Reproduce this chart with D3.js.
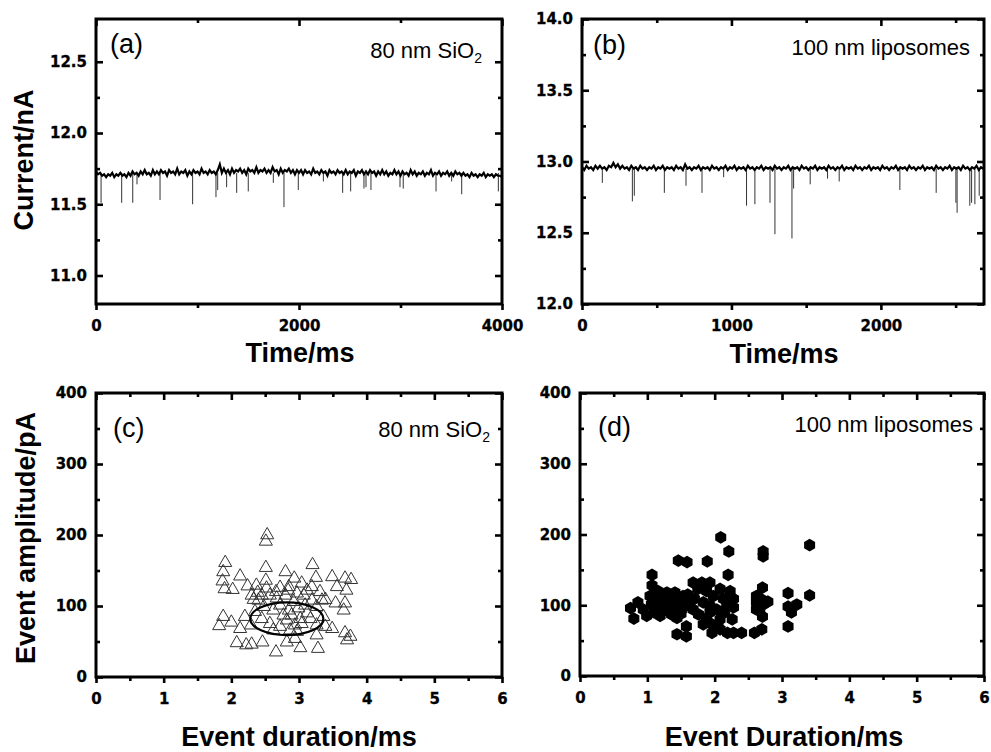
<!DOCTYPE html>
<html>
<head>
<meta charset="utf-8">
<script src="https://cdn.jsdelivr.net/npm/d3@7"></script>
<style>
  body { margin: 0; background: #fff; }
  .tick text { font-family: "DejaVu Sans", sans-serif; font-weight: bold; font-size: 15px; fill: #000; stroke: #000; stroke-width: 0.3px; }
  .title { font-family: "Liberation Sans", Arial, sans-serif; font-weight: bold; font-size: 27px; fill: #000; }
  .plabel { font-family: "Liberation Sans", Arial, sans-serif; font-size: 27px; fill: #000; }
  .note { font-family: "Liberation Sans", Arial, sans-serif; font-size: 22px; fill: #000; }
</style>
</head>
<body>
<script>
// ---- data ----

// (a) 80 nm SiO2 current trace, sampled every 20 ms
var stepA = 20;
var currentA = [
  11.73,11.71,11.72,11.70,11.71,11.69,11.71,11.70,11.72,11.69,11.71,11.70,11.72,11.70,11.71,11.69,11.72,11.70,11.73,11.71,11.72,
  11.70,11.73,11.71,11.74,11.71,11.72,11.70,11.74,11.71,11.73,
  11.71,11.74,11.72,11.73,11.70,11.74,11.72,11.73,11.71,11.75,
  11.71,11.73,11.72,11.74,11.70,11.73,11.71,11.74,11.72,11.73,
  11.71,11.75,11.72,11.73,11.71,11.74,11.72,11.73,11.71,11.74,
  11.78,11.72,11.75,11.72,11.74,11.71,11.75,11.72,11.74,11.73,
  11.75,11.72,11.74,11.71,11.75,11.73,11.74,11.72,11.76,11.72,
  11.74,11.73,11.75,11.72,11.74,11.72,11.76,11.73,11.74,11.71,
  11.75,11.72,11.74,11.73,11.75,11.72,11.74,11.71,11.74,11.72,
  11.74,11.71,11.74,11.72,11.73,11.71,11.75,11.72,11.73,11.71,
  11.74,11.72,11.73,11.70,11.74,11.72,11.73,11.71,11.74,11.72,
  11.73,11.71,11.74,11.71,11.73,11.72,11.74,11.70,11.73,11.72,
  11.74,11.71,11.73,11.71,11.74,11.72,11.73,11.70,11.73,11.71,
  11.74,11.71,11.73,11.70,11.72,11.71,11.74,11.71,11.73,11.70,
  11.73,11.71,11.72,11.70,11.74,11.71,11.73,11.70,11.72,11.71,
  11.73,11.70,11.72,11.71,11.74,11.70,11.72,11.71,11.73,11.70,
  11.72,11.71,11.73,11.70,11.72,11.70,11.73,11.71,11.72,11.70,
  11.72,11.70,11.71,11.69,11.72,11.70,11.71,11.69,11.71,11.70,
  11.72,11.69,11.71,11.70,11.71,11.69,11.71,11.70,11.70,11.69
];
var baseA = 11.72;
var spikeTimeA = [50,253,362,404,631,952,1182,1199,1287,1386,1500,1747,1852,1993,2240,2430,2509,2640,2660,2709,2995,3027,3350,3504,3603,3964];
var spikeDepthA = [11.51,11.51,11.51,11.64,11.53,11.50,11.55,11.60,11.62,11.58,11.59,11.65,11.48,11.60,11.66,11.58,11.59,11.61,11.62,11.60,11.62,11.61,11.59,11.66,11.57,11.59];

// (b) 100 nm liposomes current trace, sampled every 15 ms
var stepB = 15;
var currentB = [
  12.96,12.94,12.97,12.95,12.96,12.94,12.97,12.95,12.97,12.95,
  12.96,12.94,12.97,12.96,12.99,12.96,12.98,12.95,12.97,12.95,12.96,
  12.94,12.97,12.95,12.96,12.94,12.97,12.95,12.96,12.94,12.96,
  12.95,12.97,12.94,12.96,12.95,12.97,12.94,12.96,12.95,12.96,
  12.94,12.97,12.95,12.96,12.94,12.98,12.95,12.96,12.94,12.96,
  12.95,12.97,12.94,12.96,12.95,12.96,12.94,12.97,12.95,12.96,
  12.94,12.96,12.95,12.97,12.94,12.96,12.95,12.97,12.94,12.96,
  12.95,12.96,12.94,12.97,12.95,12.96,12.94,12.96,12.95,12.97,
  12.94,12.96,12.95,12.96,12.94,12.97,12.95,12.96,12.94,12.96,
  12.95,12.97,12.94,12.96,12.95,12.96,12.94,12.97,12.95,12.96,
  12.94,12.96,12.95,12.97,12.94,12.96,12.95,12.96,12.94,12.97,
  12.95,12.96,12.94,12.96,12.95,12.97,12.94,12.96,12.95,12.96,
  12.94,12.97,12.95,12.96,12.94,12.96,12.95,12.97,12.94,12.96,
  12.95,12.96,12.94,12.97,12.95,12.96,12.94,12.96,12.95,12.97,
  12.94,12.96,12.95,12.96,12.94,12.97,12.95,12.96,12.94,12.96,
  12.95,12.97,12.94,12.96,12.95,12.96,12.94,12.97,12.95,12.96,
  12.94,12.96,12.95,12.97,12.94,12.96,12.95,12.96,12.94,12.97,
  12.95,12.96,12.94,12.96,12.95,12.97,12.94,12.96,12.95,12.96
];
var baseB = 12.95;
var spikeTimeB = [136,337,350,551,696,803,948,1101,1157,1258,1291,1405,1416,1527,1643,1721,2127,2370,2502,2510,2595,2607,2629,2658];
var spikeDepthB = [12.85,12.72,12.76,12.78,12.83,12.78,12.89,12.69,12.70,12.71,12.49,12.46,12.81,12.84,12.88,12.86,12.80,12.78,12.71,12.64,12.69,12.71,12.70,12.76];

// (c) 80 nm SiO2 events
var durationC = [2.53,2.51,1.91,1.88,1.87,1.90,2.02,2.13,2.24,2.37,2.51,2.51,2.39,2.33,2.80,2.93,2.72,2.85,3.04,3.20,
  3.25,3.19,3.31,3.39,3.49,3.56,3.68,3.77,3.70,3.54,3.68,3.66,1.88,1.82,2.00,2.13,2.20,2.08,2.22,2.30,
  2.46,2.66,2.82,2.94,3.02,3.28,3.26,3.49,3.68,3.76,3.71,
  2.40,2.48,2.57,2.67,2.62,2.72,2.80,2.85,2.92,2.99,3.07,3.12,3.19,3.26,3.17,3.04,2.94,2.82,2.72,2.57,
  2.45,2.35,2.29,3.36,3.39,3.26,2.87,2.97,2.62,2.77,2.89,3.02,3.09,2.84,2.66,2.52,3.12,2.97,2.45,2.30,3.34];
var amplitudeC = [200,191,161,148,135,124,123,142,128,129,154,136,119,109,148,139,126,127,132,158,
  140,127,120,109,141,127,139,137,122,104,104,94,85,72,77,68,85,48,45,46,
  49,35,49,54,41,40,59,68,62,57,52,
  108,99,115,111,94,101,115,94,106,97,115,90,108,99,82,75,73,80,71,75,
  82,92,73,85,71,73,66,64,66,87,87,82,101,122,120,125,122,118,115,115,108];
var fitC = { duration: 2.82, amplitude: 82, rDuration: 0.54, rAmplitude: 23 };

// (d) 100 nm liposome events
var durationD = [2.09,2.21,2.72,2.72,3.41,1.46,1.59,1.89,1.07,2.20,1.07,2.71,3.09,3.41,0.75,0.86,0.80,0.99,0.94,3.09,
  3.22,3.14,3.09,2.79,2.71,2.70,2.59,2.40,2.28,2.19,2.08,1.96,1.44,1.58,1.58,
  1.14,1.24,1.34,1.14,1.24,1.36,1.44,1.51,1.58,1.44,1.53,1.63,1.29,1.41,1.09,1.19,1.31,1.41,1.49,1.16,1.04,1.06,
  1.20,1.30,1.40,1.50,1.25,1.35,1.55,1.45,1.10,1.60,
  1.68,1.81,1.93,1.75,1.88,1.98,2.08,2.13,2.23,2.28,2.18,2.28,2.03,1.93,1.83,1.76,1.88,1.96,2.08,2.15,2.26,1.93,
  2.05,1.83,1.68,1.70,2.62,2.62,2.62,2.72,2.70,2.67];
var amplitudeD = [196,176,176,169,185,163,161,162,143,143,128,125,117,114,96,104,81,85,94,98,
  101,90,70,105,84,66,61,61,61,61,66,61,59,56,70,
  113,109,104,99,92,87,82,94,104,109,113,109,118,118,106,85,97,97,104,120,113,101,
  100,110,92,88,95,113,98,100,90,115,
  132,132,132,123,120,113,123,109,120,109,101,97,94,99,104,87,82,73,80,90,80,90,
  70,73,94,109,113,104,94,101,108,92];

// ---- drawing ----
var svg = d3.select("body").append("svg")
    .attr("width", 991)
    .attr("height", 752)
    .style("background", "#fff");

function makePanel(p) {
  var w = p.right - p.left, h = p.bottom - p.top;
  var g = svg.append("g").attr("transform", "translate(" + p.left + "," + p.top + ")");
  var x = d3.scaleLinear().domain(p.xDomain).range([0, w]);
  var y = d3.scaleLinear().domain(p.yDomain).range([h, 0]);
  var id = "clip" + p.name;
  svg.append("clipPath").attr("id", id).append("rect").attr("width", w).attr("height", h);
  var plot = g.append("g").attr("clip-path", "url(#" + id + ")");
  return { g: g, plot: plot, x: x, y: y, w: w, h: h, p: p };
}

function drawAxes(P) {
  var p = P.p, g = P.g;
  function put(axis, tx, ty) {
    var a = g.append("g").attr("transform", "translate(" + tx + "," + ty + ")").call(axis);
    a.select(".domain").remove();
    a.selectAll(".tick line").attr("stroke", "#000").attr("stroke-width", 2.6);
    return a;
  }
  put(d3.axisBottom(P.x).tickValues(p.xMajor).tickSize(6).tickPadding(10).tickFormat(p.xFmt), 0, P.h);
  put(d3.axisBottom(P.x).tickValues(p.xMinor).tickSize(4).tickFormat(""), 0, P.h);
  put(d3.axisTop(P.x).tickValues(p.xMajor).tickSize(-7).tickFormat(""), 0, 0);
  put(d3.axisTop(P.x).tickValues(p.xMinor).tickSize(-4).tickFormat(""), 0, 0);
  put(d3.axisLeft(P.y).tickValues(p.yMajor).tickSize(-7).tickPadding(9).tickFormat(p.yFmt), 0, 0);
  put(d3.axisLeft(P.y).tickValues(p.yMinor).tickSize(-4).tickFormat(""), 0, 0);
  put(d3.axisRight(P.y).tickValues(p.yMajor).tickSize(-7).tickFormat(""), P.w, 0);
  put(d3.axisRight(P.y).tickValues(p.yMinor).tickSize(-4).tickFormat(""), P.w, 0);
  g.append("rect").attr("width", P.w).attr("height", P.h)
    .attr("fill", "none").attr("stroke", "#000").attr("stroke-width", 3);
}

function drawTrace(P, step, values, base, spikeT, spikeD) {
  var times = values.map(function (v, i) { return i * step; });
  // event spikes
  P.plot.selectAll("line.spike").data(spikeT).enter().append("line")
    .attr("class", "spike")
    .attr("x1", function (d) { return P.x(d); })
    .attr("x2", function (d) { return P.x(d); })
    .attr("y1", P.y(base))
    .attr("y2", function (d, i) { return P.y(spikeD[i]); })
    .attr("stroke", "#333")
    .attr("stroke-width", 1);
  var line = d3.line()
    .x(function (d, i) { return P.x(times[i]); })
    .y(function (d) { return P.y(d); });
  P.plot.append("path").datum(values)
    .attr("fill", "none").attr("stroke", "#000").attr("stroke-width", 2.2)
    .attr("d", line);
}

function label(letter, lx, ly, noteText, sub, nx, ny) {
  svg.append("text").attr("class", "plabel").attr("x", lx).attr("y", ly).text("(" + letter + ")");
  var t = svg.append("text").attr("class", "note").attr("x", nx).attr("y", ny)
    .attr("text-anchor", "end").text(noteText);
  if (sub) t.append("tspan").attr("font-size", "14px").attr("dy", 5).text(sub);
}

var fmt1 = d3.format(".1f"), fmt0 = d3.format("d");

// (a)
var A = makePanel({ name: "a", left: 96, right: 502, top: 19, bottom: 304,
  xDomain: [0, 4000], yDomain: [10.8, 12.8],
  xMajor: [0, 2000, 4000], xMinor: [1000, 3000],
  yMajor: [11.0, 11.5, 12.0, 12.5], yMinor: [11.25, 11.75, 12.25],
  xFmt: fmt0, yFmt: fmt1 });
drawTrace(A, stepA, currentA, baseA, spikeTimeA, spikeDepthA);
drawAxes(A);
label("a", 110, 53, "80 nm SiO", "2", 482, 58);

// (b)
var B = makePanel({ name: "b", left: 582, right: 984, top: 19, bottom: 304,
  xDomain: [0, 2690], yDomain: [12.0, 14.0],
  xMajor: [0, 1000, 2000], xMinor: [500, 1500, 2500],
  yMajor: [12.0, 12.5, 13.0, 13.5, 14.0], yMinor: [12.25, 12.75, 13.25, 13.75],
  xFmt: fmt0, yFmt: fmt1 });
drawTrace(B, stepB, currentB, baseB, spikeTimeB, spikeDepthB);
drawAxes(B);
label("b", 593, 54, "100 nm liposomes", null, 970, 55);

// (c)
var scatterAxes = {
  xDomain: [0, 6], yDomain: [0, 400],
  xMajor: [0, 1, 2, 3, 4, 5, 6], xMinor: [0.5, 1.5, 2.5, 3.5, 4.5, 5.5],
  yMajor: [0, 100, 200, 300, 400], yMinor: [50, 150, 250, 350],
  xFmt: fmt0, yFmt: fmt0 };
var C = makePanel(Object.assign({ name: "c", left: 96, right: 502, top: 393, bottom: 677 }, scatterAxes));
C.plot.selectAll("path.tri").data(durationC).enter().append("path")
  .attr("class", "tri")
  .attr("transform", function (d, i) { return "translate(" + C.x(d) + "," + C.y(amplitudeC[i]) + ")"; })
  .attr("d", d3.symbol(d3.symbolTriangle, 74))
  .attr("fill", "none").attr("stroke", "#333").attr("stroke-width", 1);
C.plot.append("ellipse")
  .attr("cx", C.x(fitC.duration)).attr("cy", C.y(fitC.amplitude))
  .attr("rx", C.x(fitC.duration + fitC.rDuration) - C.x(fitC.duration))
  .attr("ry", C.y(fitC.amplitude - fitC.rAmplitude) - C.y(fitC.amplitude))
  .attr("fill", "none").attr("stroke", "#000").attr("stroke-width", 2.2);
drawAxes(C);
label("c", 113, 437, "80 nm SiO", "2", 490, 437);

// (d)
var hexagon = {
  draw: function (ctx, size) {
    var r = Math.sqrt(size / 2.598);
    for (var k = 0; k < 6; k++) {
      var a = Math.PI / 3 * k - Math.PI / 2;
      if (k === 0) ctx.moveTo(r * Math.cos(a), r * Math.sin(a));
      else ctx.lineTo(r * Math.cos(a), r * Math.sin(a));
    }
    ctx.closePath();
  }
};
var D = makePanel(Object.assign({ name: "d", left: 580, right: 984, top: 393, bottom: 676 }, scatterAxes));
D.plot.selectAll("path.hex").data(durationD).enter().append("path")
  .attr("class", "hex")
  .attr("transform", function (d, i) { return "translate(" + D.x(d) + "," + D.y(amplitudeD[i]) + ")"; })
  .attr("d", d3.symbol(hexagon, 105))
  .attr("fill", "#000");
drawAxes(D);
label("d", 598, 436, "100 nm liposomes", null, 973, 432);

// axis titles
function title(x, y, text, rotate) {
  svg.append("text").attr("class", "title")
    .attr("text-anchor", "middle")
    .attr("transform", "translate(" + x + "," + y + ")" + (rotate ? " rotate(-90)" : ""))
    .text(text);
}
title(33, 160, "Current/nA", true);
title(35, 538, "Event amplitude/pA", true);
title(300, 362, "Time/ms");
title(784, 363, "Time/ms");
title(299, 746, "Event duration/ms");
title(784, 746, "Event Duration/ms");
</script>
</body>
</html>
